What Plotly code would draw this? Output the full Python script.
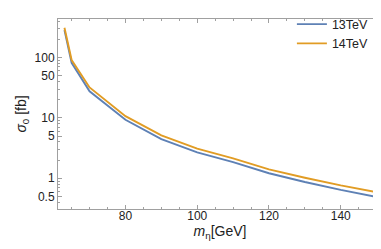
import plotly.graph_objects as go

m_eta = [63, 65, 70, 80, 90, 100, 110, 120, 130, 140, 150]
sigma_13 = [285, 82, 27.6, 9.3, 4.46, 2.68, 1.85, 1.21, 0.865, 0.64, 0.49]
sigma_14 = [313, 91, 32, 10.7, 5.15, 3.10, 2.14, 1.40, 1.02, 0.76, 0.585]
names = ["13TeV", "14TeV"]
colors = ["#5E81B5", "#E19C24"]

y_ticks = [0.5, 1, 5, 10, 50, 100]
y_ticktext = ["0.5", "1", "5", "10", "50", "100"]
y_minor = [0.3, 0.4, 0.6, 0.7, 0.8, 0.9, 2, 3, 4, 6, 7, 8, 9, 20, 30, 40, 60, 70, 80, 90, 200, 300, 400]
x_ticks = [80, 100, 120, 140]

fig = go.Figure()
for ys, nm, c in zip([sigma_13, sigma_14], names, colors):
    fig.add_trace(go.Scatter(x=m_eta, y=ys, mode="lines", name=nm,
                             line=dict(color=c, width=1.9)))

font = dict(family="Liberation Sans, Arial, sans-serif", size=12, color="#222")
fig.update_layout(
    width=381, height=249,
    margin=dict(l=50, r=7, t=1, b=48),
    paper_bgcolor="white", plot_bgcolor="white",
    font=font,
    showlegend=True,
    legend=dict(x=0.975, y=1.05, xanchor="right", yanchor="top",
                bgcolor="rgba(0,0,0,0)", font=dict(size=12.5, color="#222"),
                tracegroupgap=0),
)
axis_common = dict(showline=True, linecolor="#a0a0a0", linewidth=1, mirror="ticks",
                   ticks="inside", ticklen=4, tickcolor="#a0a0a0", showgrid=False,
                   zeroline=False, tickfont=dict(size=12, color="#222"))
fig.update_xaxes(range=[61.2, 151.5], tickvals=x_ticks, ticklabelstandoff=-4,
                 title=dict(text="<i>m</i><sub>η</sub>[GeV]", font=dict(size=14), standoff=2),
                 minor=dict(ticks="inside", ticklen=2, tickcolor="#a0a0a0", dtick=5, tick0=0),
                 **axis_common)
fig.update_yaxes(type="log", range=[-0.51, 2.64], tickvals=y_ticks, ticktext=y_ticktext,
                 title=dict(text="<i>σ</i><sub>0</sub> [fb]", font=dict(size=14), standoff=4),
                 minor=dict(ticks="inside", ticklen=2, tickcolor="#a0a0a0", tickvals=y_minor),
                 **axis_common)

fig.write_html("out.html")
